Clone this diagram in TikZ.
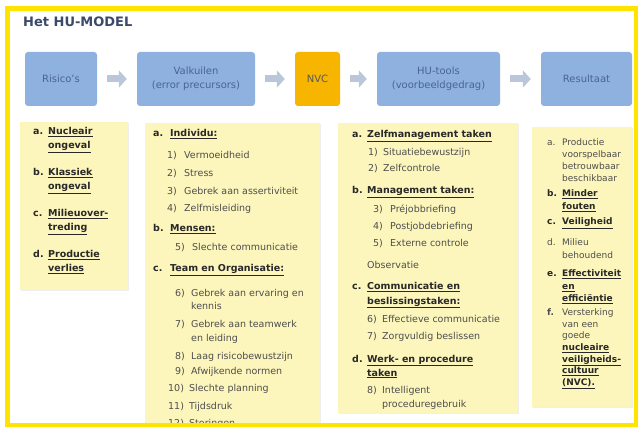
\documentclass[tikz,border=0pt]{standalone}
\usepackage{fontspec}
\setmainfont{DejaVu Sans}
\usetikzlibrary{arrows.meta,positioning,shadows}
\definecolor{kader}{RGB}{255,228,0}
\definecolor{blokblauw}{RGB}{143,177,224}
\definecolor{bloktekst}{RGB}{72,100,148}
\definecolor{nvcoranje}{RGB}{247,181,0}
\definecolor{paneelgeel}{RGB}{252,245,188}
\definecolor{pijlgrijs}{RGB}{186,199,218}
\definecolor{titelkleur}{RGB}{60,74,106}
\definecolor{tekst}{RGB}{78,78,78}
\definecolor{koptekst}{RGB}{40,40,40}
\newcommand{\nrbox}[2]{\makebox[#1][l]{#2}}
\tikzset{
  blok/.style={fill=blokblauw, rounded corners=3pt, inner sep=0pt, minimum height=54pt,
    align=center, text=bloktekst, font=\fontsize{10}{14}\selectfont},
  blokpijl/.style={draw=pijlgrijs, line width=7pt, -{Triangle[length=8pt,width=17pt]},
    shorten <=10pt, shorten >=10pt},
  paneel/.style={fill=paneelgeel, drop shadow={opacity=0.12,shadow xshift=0.8pt,shadow yshift=-0.8pt}},
  txt/.style={anchor=base west, inner sep=0pt, text=tekst, font=\fontsize{9.5}{11}\selectfont},
  kop/.style={txt, text=koptekst, font=\fontsize{9.5}{11}\selectfont\bfseries},
  klein/.style={txt, font=\fontsize{9}{11}\selectfont},
  kleinkop/.style={klein, text=koptekst, font=\fontsize{9}{11}\selectfont\bfseries}
}
\begin{document}
\begin{tikzpicture}[x=1pt,y=-1pt]
    \useasboundingbox (0,0) rectangle (639,427);
    \fill[white] (0,0) rectangle (639,427);

    % Titel
    \node[anchor=base west, inner sep=0pt, font=\fontsize{13}{15}\selectfont\bfseries, text=titelkleur] (titel) at (23,27) {Het HU-MODEL};

    % Blokken bovenaan
    \node[blok, minimum width=72pt] (risico) at (61,79) {Risico's};
    \node[blok, minimum width=118pt] (valkuil) at (196,79) {Valkuilen\\(error precursors)};
    \node[blok, minimum width=45pt, fill=nvcoranje, text=black!65] (nvc) at (317.5,79) {NVC};
    \node[blok, minimum width=123pt] (hutools) at (438.5,79) {HU-tools\\(voorbeeldgedrag)};
    \node[blok, minimum width=91pt] (resultaat) at (586.5,79) {Resultaat};

    % Pijlen
    \draw[blokpijl] (risico) -- (valkuil);
    \draw[blokpijl] (valkuil) -- (nvc);
    \draw[blokpijl] (nvc) -- (hutools);
    \draw[blokpijl] (hutools) -- (resultaat);

    % Panelen
    \fill[paneel] (20,122) rectangle (128,290);
    \fill[paneel] (145,123) rectangle (320,430);
    \fill[paneel] (338,123) rectangle (518,413);
    \fill[paneel] (532,127) rectangle (632,407);

    % Paneel 1: risico's
    \foreach \l/\a/\b/\y [count=\k] in {a./Nucleair/ongeval/131, b./Klassiek/ongeval/172,
        c./Milieuover-/treding/213, d./Productie/verlies/254}{
      \node[kop] (ris\k) at (33,\y+3.5) {\nrbox{15pt}{\l}\underline{\a}};
      \node[kop] (risb\k) at (48,\y+17.5) {\underline{\b}};
    }

    % Paneel 2: valkuilen
    \node[kop] (indiv) at (153,136.5) {\nrbox{17pt}{a.}\underline{Individu:}};
    \foreach \n/\y/\t [count=\k] in {1)/159/Vermoeidheid, 2)/177/Stress,
        3)/195/Gebrek aan assertiviteit, 4)/212/Zelfmisleiding}{
      \node[txt] (ind\k) at (167,\y) {\nrbox{17pt}{\n}\t};
    }
    \node[kop] (mensen) at (153,232) {\nrbox{17pt}{b.}\underline{Mensen:}};
    \node[txt] (mens5) at (175,251) {\nrbox{17pt}{5)}Slechte communicatie};
    \node[kop] (team) at (153,272) {\nrbox{17pt}{c.}\underline{Team en Organisatie:}};
    \node[txt] (team6) at (175,296) {\nrbox{16pt}{6)}Gebrek aan ervaring en};
    \node[txt] (team6b) at (191,309) {kennis};
    \node[txt] (team7) at (175,327) {\nrbox{16pt}{7)}Gebrek aan teamwerk};
    \node[txt] (team7b) at (191,341) {en leiding};
    \node[txt] (team8) at (175,359) {\nrbox{16pt}{8)}Laag risicobewustzijn};
    \node[txt] (team9) at (175,374) {\nrbox{16pt}{9)}Afwijkende normen};
    \foreach \n/\y/\t [count=\k] in {10)/391/Slechte planning, 11)/409/Tijdsdruk, 12)/426/Storingen}{
      \node[txt] (tm\k) at (168,\y) {\nrbox{21pt}{\n}\t};
    }

    % Paneel 3: HU-tools
    \node[kop] (zelf) at (352,138) {\nrbox{15pt}{a.}\underline{Zelfmanagement taken}};
    \node[txt] (zelf1) at (368,156) {\nrbox{15pt}{1)}Situatiebewustzijn};
    \node[txt] (zelf2) at (368,172) {\nrbox{15pt}{2)}Zelfcontrole};
    \node[kop] (mgmt) at (352,194) {\nrbox{15pt}{b.}\underline{Management taken:}};
    \foreach \n/\y/\t [count=\k] in {3)/213/Préjobbriefing, 4)/230/Postjobdebriefing, 5)/247/Externe controle}{
      \node[txt] (mg\k) at (373,\y) {\nrbox{17pt}{\n}\t};
    }
    \node[txt] (observatie) at (367,269) {Observatie};
    \node[kop] (comm) at (352,290) {\nrbox{15pt}{c.}\underline{Communicatie en}};
    \node[kop] (commb) at (367,304) {\underline{beslissingstaken:}};
    \node[txt] (comm6) at (367,322) {\nrbox{15pt}{6)}Effectieve communicatie};
    \node[txt] (comm7) at (367,339) {\nrbox{15pt}{7)}Zorgvuldig beslissen};
    \node[kop] (werk) at (352,362) {\nrbox{15pt}{d.}\underline{Werk- en procedure}};
    \node[kop] (werkb) at (367,376) {\underline{taken}};
    \node[txt] (werk8) at (367,393) {\nrbox{15pt}{8)}Intelligent};
    \node[txt] (werk8b) at (382,407) {proceduregebruik};

    % Paneel 4: resultaat
    \node[klein] (resa) at (547,145.5) {\nrbox{15pt}{a.}Productie};
    \foreach \y/\t [count=\k] in {157.5/voorspelbaar, 169.5/betrouwbaar, 181.5/beschikbaar}{
      \node[klein] (resa\k) at (562,\y) {\t};
    }
    \node[kleinkop] (resb) at (547,196.5) {\nrbox{15pt}{b.}\underline{Minder}};
    \node[kleinkop] (resbb) at (562,209.5) {\underline{fouten}};
    \node[kleinkop] (resc) at (547,224.5) {\nrbox{15pt}{c.}\underline{Veiligheid}};
    \node[klein] (resd) at (547,245.5) {\nrbox{15pt}{d.}Milieu};
    \node[klein] (resdb) at (562,258.5) {behoudend};
    \node[kleinkop] (rese) at (547,276.5) {\nrbox{15pt}{e.}\underline{Effectiviteit}};
    \node[kleinkop] (rese1) at (562,289.5) {\underline{en}};
    \node[kleinkop] (rese2) at (562,301.5) {\underline{efficiëntie}};
    \node[klein] (resf) at (547,315.5) {\nrbox{15pt}{\textbf{f.}}Versterking};
    \node[klein] (resf1) at (562,327) {van een};
    \node[klein] (resf2) at (562,338.5) {goede};
    \foreach \y/\t [count=\k] in {350.5/nucleaire, 362/veiligheids-, 373.5/cultuur, 385.5/(NVC).}{
      \node[kleinkop] (resg\k) at (562,\y) {\underline{\t}};
    }

    % Geel kader
    \draw[kader, line width=4.5pt] (7.5,8.5) rectangle (636,425);
\end{tikzpicture}
\end{document}
